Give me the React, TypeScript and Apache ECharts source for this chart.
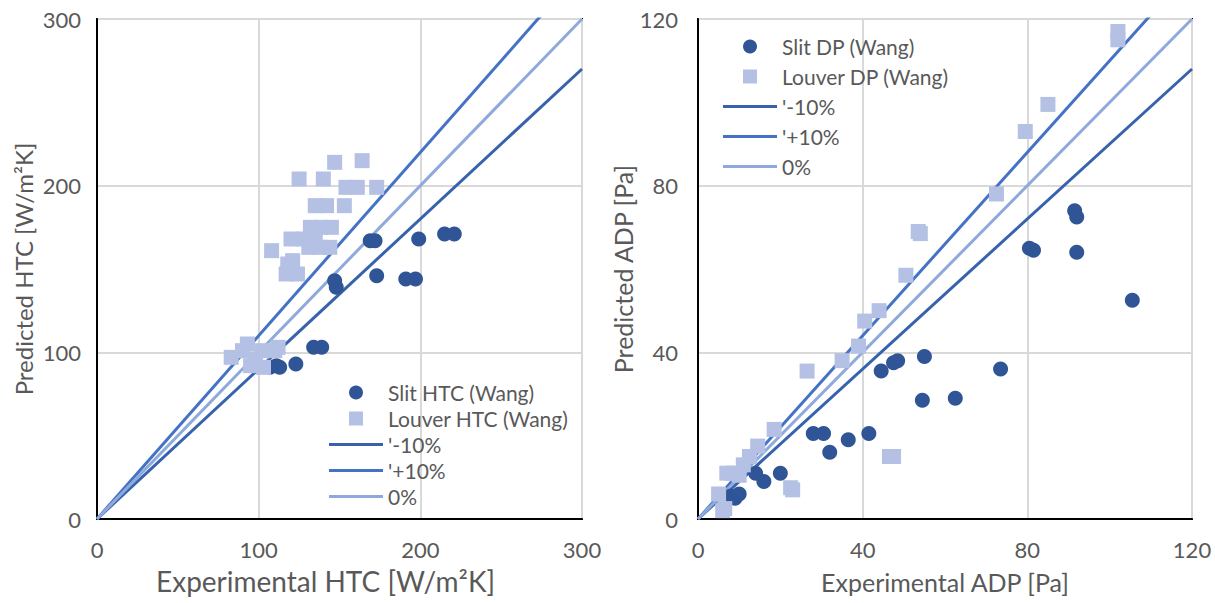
import React, { useEffect, useRef } from "react";
import * as echarts from "echarts";

const slitHTC: number[][] = [
  [107, 91], [111, 92], [113, 91], [123, 93], [134, 103], [139, 103],
  [147, 143], [148, 139], [169, 167], [172, 167], [173, 146], [191, 144],
  [197, 144], [199, 168], [215, 171], [221, 171],
];
const louverHTC: number[][] = [
  [83, 97], [90, 101], [93, 105], [95, 92], [98, 96], [102, 101], [103, 91],
  [110, 101], [112, 103], [108, 161], [117, 147], [118, 153], [121, 155],
  [124, 147], [120, 168], [128, 168], [135, 168], [132, 175], [139, 175],
  [145, 175], [131, 163], [138, 163], [144, 163], [135, 188], [142, 188],
  [153, 188], [125, 204], [140, 204], [147, 214], [164, 215], [154, 199],
  [161, 199], [173, 199],
];
const slitDP: number[][] = [
  [8, 5.5], [9, 5], [10, 6], [14, 11], [16, 9], [20, 11], [28, 20.5],
  [30.5, 20.5], [32, 16], [36.5, 19], [41.5, 20.5], [44.5, 35.5], [47.5, 37.5],
  [48.5, 38], [54.5, 28.5], [55, 39], [62.5, 29], [73.5, 36], [80.5, 65],
  [81.5, 64.5], [91.5, 74], [92, 72.5], [92, 64], [105.5, 52.5],
];
const louverDP: number[][] = [
  [5, 6], [6, 2], [6.5, 2.5], [7, 11], [8.5, 11], [10, 10.5], [11, 13],
  [12.5, 15], [14.5, 17.5], [18.5, 21.5], [22.5, 7.5], [23, 7], [26.5, 35.5],
  [35, 38], [39, 41.5], [40.5, 47.5], [44, 50], [46.5, 15], [47.5, 15],
  [50.5, 58.5], [53.5, 69], [54, 68.5], [72.5, 78], [79.5, 93], [85, 99.5],
  [102, 117], [102, 115],
];
const bandNames = ["'-10%", "'+10%", "0%"];
const bandRatios = [0.9, 1.1, 1.0];
const bandColors = ["#3763ad", "#4472c4", "#8fa9dc"];
const htcMax = 300;
const htcInterval = 100;
const dpMax = 120;
const dpInterval = 40;

const FONT = "Lato";
const GREY = "#595959";
const LINE_ICON = "path://M0,0h54v3h-54z";
const SQUARE_ICON = "path://M0,0h10v10h-10z";

export default function App() {
  const ref = useRef<HTMLDivElement>(null);
  useEffect(() => {
    if (!ref.current) return;
    const chart = echarts.init(ref.current, undefined, { renderer: "svg" });

    const axisCommon = (max: number, interval: number, margin: number) => ({
      type: "value" as const,
      min: 0,
      max,
      interval,
      axisLine: { show: true, onZero: false, lineStyle: { color: "#000", width: 2 } },
      axisTick: { show: false },
      splitLine: { show: true, lineStyle: { color: "#d9d9d9", width: 2 } },
      axisLabel: { color: GREY, fontSize: 22, fontFamily: FONT, margin },
      nameLocation: "middle" as const,
      nameTextStyle: { color: GREY, fontSize: 25, fontFamily: FONT },
    });

    const bandSeries = (gi: number, max: number) =>
      bandNames.map((n, i) => ({
        type: "line" as const,
        name: n,
        xAxisIndex: gi,
        yAxisIndex: gi,
        symbol: "none",
        showSymbol: false,
        clip: true,
        z: 1,
        lineStyle: { color: bandColors[i], width: 3 },
        itemStyle: { color: bandColors[i] },
        data: [[0, 0], [max, max * bandRatios[i]]],
      }));

    const scatter = (name: string, gi: number, data: number[][], symbol: string, color: string) => ({
      type: "scatter" as const,
      name,
      xAxisIndex: gi,
      yAxisIndex: gi,
      symbol,
      symbolSize: 15,
      z: 3,
      itemStyle: { color, opacity: 1 },
      data,
    });

    const legendData = (slit: string, louver: string) => [
      { name: slit, icon: "circle" },
      { name: louver, icon: SQUARE_ICON },
      ...bandNames.map((n) => ({ name: n, icon: LINE_ICON })),
    ];

    const legendCommon = {
      orient: "vertical" as const,
      itemWidth: 54,
      itemHeight: 14,
      symbolKeepAspect: true,
      textStyle: { color: GREY, fontSize: 21, fontFamily: FONT },
    };

    chart.setOption({
      animation: false,
      backgroundColor: "#fff",
      grid: [
        { left: 97, top: 19, width: 485, height: 500, show: true, borderColor: "#000", borderWidth: 2 },
        { left: 698, top: 19, width: 494, height: 500, show: true, borderColor: "#000", borderWidth: 2 },
      ],
      xAxis: [
        {
          ...axisCommon(htcMax, htcInterval, 19), gridIndex: 0, name: "Experimental HTC [W/m²K]", nameGap: 48,
          nameTextStyle: { color: GREY, fontSize: 28, fontFamily: FONT, padding: [0, 28, 0, 0] },
        },
        { ...axisCommon(dpMax, dpInterval, 19), gridIndex: 1, name: "Experimental ADP [Pa]", nameGap: 50 },
      ],
      yAxis: [
        {
          ...axisCommon(htcMax, htcInterval, 16), gridIndex: 0, name: "Predicted HTC [W/m²K]", nameGap: 62,
          nameTextStyle: { color: GREY, fontSize: 24, fontFamily: FONT },
        },
        { ...axisCommon(dpMax, dpInterval, 20), gridIndex: 1, name: "Predicted ADP [Pa]", nameGap: 50 },
      ],
      legend: [
        { ...legendCommon, left: 324, top: 377, itemGap: 5, data: legendData("Slit HTC (Wang)", "Louver HTC (Wang)") },
        { ...legendCommon, left: 718, top: 31, itemGap: 9, data: legendData("Slit DP (Wang)", "Louver DP (Wang)") },
      ],
      series: [
        ...bandSeries(0, htcMax),
        ...bandSeries(1, dpMax),
        scatter("Slit HTC (Wang)", 0, slitHTC, "circle", "#2f5597"),
        scatter("Louver HTC (Wang)", 0, louverHTC, "rect", "#b4c1e4"),
        scatter("Slit DP (Wang)", 1, slitDP, "circle", "#2f5597"),
        scatter("Louver DP (Wang)", 1, louverDP, "rect", "#b4c1e4"),
      ],
    });
    return () => chart.dispose();
  }, []);
  return (
    <div
      ref={ref}
      style={{ position: "fixed", left: 0, top: 0, width: 1215, height: 603, background: "#fff" }}
    />
  );
}
